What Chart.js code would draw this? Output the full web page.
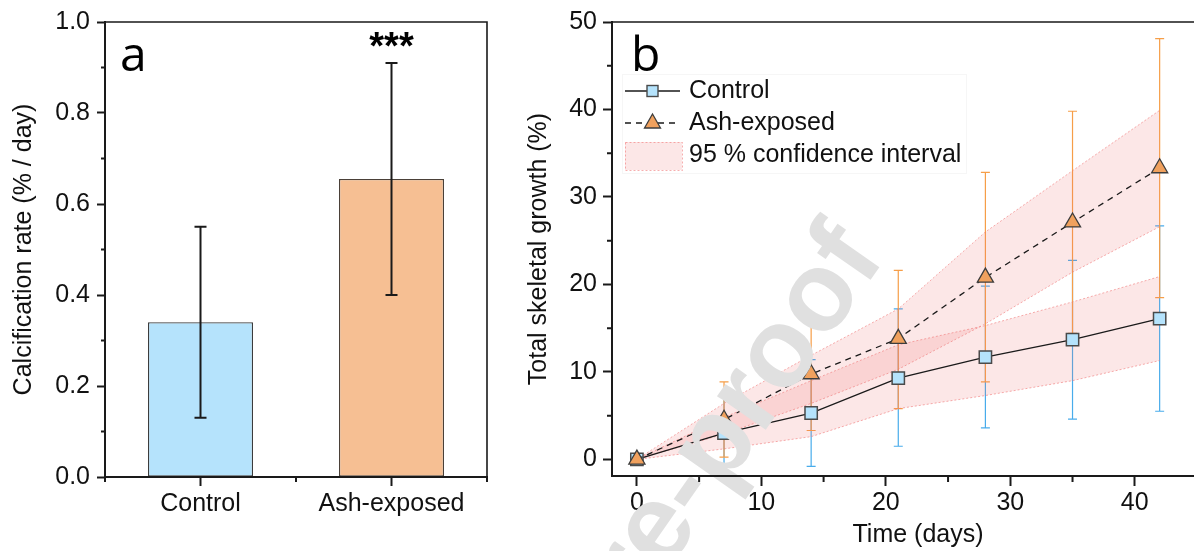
<!DOCTYPE html>
<html>
<head>
<meta charset="utf-8">
<script src="https://cdn.jsdelivr.net/npm/chart.js@4.4.0/dist/chart.umd.min.js"></script>
<style>
  html, body { margin: 0; padding: 0; background: #fff; width: 1194px; height: 551px; overflow: hidden; }
  #wrapA { position: absolute; left: 0; top: 0; }
  #wrapB { position: absolute; left: 510px; top: 0; }
</style>
</head>
<body>
<div id="wrapA"><canvas id="chartA" width="510" height="551"></canvas></div>
<div id="wrapB"><canvas id="chartB" width="730" height="551"></canvas></div>
<script>
// panel a - calcification rate
const groups = ["Control", "Ash-exposed"];
const rateMean = [0.34, 0.655];
const rateLow = [0.13, 0.40];
const rateHigh = [0.55, 0.91];
const rateTicks = [0, 0.2, 0.4, 0.6, 0.8, 1.0];
const rateMinor = [0.1, 0.3, 0.5, 0.7, 0.9];

// panel b - total skeletal growth over time
const days = [0, 7, 14, 21, 28, 35, 42];
const ctrlGrowth = [0, 3.0, 5.3, 9.3, 11.7, 13.7, 16.1];
const ctrlErrLow = [0, -1.45, -0.8, 1.5, 3.6, 4.6, 5.5];
const ctrlErrHigh = [0, 7.45, 11.4, 17.2, 19.8, 22.75, 26.7];
const ashGrowth = [0, 4.55, 9.75, 13.8, 20.8, 27.1, 33.3];
const ashErrLow = [0, 0.25, 3.3, 5.8, 8.85, 14.4, 18.5];
const ashErrHigh = [0, 8.85, 16.2, 21.6, 32.8, 39.8, 48.1];
const ctrlCiLow = [0, 1.2, 2.6, 5.8, 7.3, 9.0, 11.3];
const ctrlCiHigh = [0, 4.8, 9.0, 13.1, 15.3, 18.0, 20.9];
const ashCiLow = [0, 2.9, 6.4, 10.3, 15.5, 21.4, 26.6];
const ashCiHigh = [0, 6.4, 11.9, 17.2, 26.0, 33.0, 39.9];
const growthTicks = [0, 10, 20, 30, 40, 50];
const growthMinor = [5, 15, 25, 35, 45];
const dayTicks = [0, 10, 20, 30, 40];
const dayMinor = [5, 15, 25, 35, 45];

const FONT = "'Liberation Sans', Arial, sans-serif";
const INK = "#1a1a1a";
const CTRL_FILL = "#b5e3fc";
const ASH_FILL = "#f6bf93";
const ASH_MARK = "#f0a15e";
const CTRL_ERR = "rgb(72,172,235)";
const ASH_ERR = "rgb(246,158,72)";
const BAND_FILL = "rgba(235,110,110,0.17)";
const BAND_LINE = "rgba(240,120,120,0.6)";

const toPts = (ys) => days.map((d, i) => ({ x: d, y: ys[i] }));

function drawMinorTicks(chart, axisId, values, len) {
  const s = chart.scales[axisId];
  const ctx = chart.ctx;
  ctx.save();
  ctx.strokeStyle = INK;
  ctx.lineWidth = 2;
  ctx.beginPath();
  values.forEach((v) => {
    const p = s.getPixelForValue(v);
    if (s.isHorizontal()) {
      ctx.moveTo(p, s.top);
      ctx.lineTo(p, s.top + len);
    } else {
      ctx.moveTo(s.right, p);
      ctx.lineTo(s.right - len, p);
    }
  });
  ctx.stroke();
  ctx.restore();
}

function drawErrorBars(ctx, xs, y, xVals, lows, highs, color, width, cap) {
  ctx.save();
  ctx.strokeStyle = color;
  ctx.lineWidth = width;
  ctx.beginPath();
  xVals.forEach((xv, i) => {
    if (lows[i] === highs[i]) return;
    const x = xs.getPixelForValue(xv);
    const y1 = y.getPixelForValue(lows[i]);
    const y2 = y.getPixelForValue(highs[i]);
    ctx.moveTo(x, y1); ctx.lineTo(x, y2);
    ctx.moveTo(x - cap / 2, y1); ctx.lineTo(x + cap / 2, y1);
    ctx.moveTo(x - cap / 2, y2); ctx.lineTo(x + cap / 2, y2);
  });
  ctx.stroke();
  ctx.restore();
}

function drawFrame(chart) {
  const a = chart.chartArea;
  const ctx = chart.ctx;
  ctx.save();
  ctx.strokeStyle = INK;
  ctx.lineWidth = 1.6;
  ctx.beginPath();
  ctx.moveTo(a.left, a.top);
  ctx.lineTo(a.right, a.top);
  ctx.lineTo(a.right, a.bottom);
  ctx.stroke();
  ctx.restore();
}

// ---------- panel a ----------
const panelAPlugin = {
  id: "panelA",
  afterDatasetsDraw(chart) {
    drawErrorBars(chart.ctx, chart.scales.x, chart.scales.y, [0, 1], rateLow, rateHigh, INK, 2, 12);
  },
  afterDraw(chart) {
    const ctx = chart.ctx;
    drawFrame(chart);
    drawMinorTicks(chart, "y", rateMinor, 4);
    drawMinorTicks(chart, "x", [-0.5, 0.5, 1.5], 5);
    ctx.save();
    ctx.fillStyle = "#000";
    ctx.font = "48px 'Open Sans'";
    ctx.textBaseline = "alphabetic";
    ctx.fillText("a", 120, 71);
    ctx.font = "bold 38px " + FONT;
    ctx.textAlign = "center";
    ctx.fillText("***", chart.scales.x.getPixelForValue(1), chart.scales.y.getPixelForValue(rateHigh[1]) - 4);
    ctx.restore();
  },
};

new Chart(document.getElementById("chartA"), {
  type: "bar",
  data: {
    labels: groups,
    datasets: [
      {
        data: rateMean,
        backgroundColor: [CTRL_FILL, ASH_FILL],
        borderColor: ["#3c3c3c", "#4a4038"],
        borderWidth: 1.3,
        borderSkipped: false,
        barPercentage: 0.55,
        categoryPercentage: 1,
      },
    ],
  },
  options: {
    responsive: false,
    animation: false,
    events: [],
    layout: { padding: { top: 21, right: 23, left: 0, bottom: 0 } },
    plugins: { legend: { display: false }, tooltip: { enabled: false } },
    scales: {
      x: {
        grid: { drawOnChartArea: false, offset: false, tickLength: 9, tickWidth: 2, tickColor: INK },
        border: { color: INK, width: 2, z: 1 },
        ticks: { font: { family: FONT, size: 25 }, color: "#111", padding: 3 },
        afterFit: (s) => { s.height = 74; },
      },
      y: {
        min: 0,
        max: 1,
        afterBuildTicks: (s) => { s.ticks = rateTicks.map((v) => ({ value: v })); },
        grid: { drawOnChartArea: false, tickLength: 8, tickWidth: 2, tickColor: INK },
        border: { color: INK, width: 2, z: 1 },
        ticks: { font: { family: FONT, size: 25 }, color: "#111", padding: 7, callback: (v) => Number(v).toFixed(1) },
        title: { display: true, text: "Calcification rate (% / day)", font: { family: FONT, size: 25 }, color: "#111", padding: { top: 9, bottom: 0 } },
        afterFit: (s) => { s.width = 105; },
      },
    },
  },
  plugins: [panelAPlugin],
});

// ---------- panel b ----------
const panelBPlugin = {
  id: "panelB",
  beforeDatasetsDraw(chart) {
    const { x, y } = chart.scales;
    drawErrorBars(chart.ctx, x, y, days, ctrlErrLow, ctrlErrHigh, CTRL_ERR, 1.2, 9);
    drawErrorBars(chart.ctx, x, y, days, ashErrLow, ashErrHigh, ASH_ERR, 1.2, 9);
  },
  afterDatasetsDraw(chart) {
    // "Journal Pre-proof" watermark of the source page
    const ctx = chart.ctx;
    ctx.save();
    ctx.translate(376, 258);
    ctx.rotate(-55 * Math.PI / 180);
    ctx.fillStyle = "#e0e0e0";
    ctx.font = "bold 112px " + FONT;
    ctx.textAlign = "right";
    ctx.textBaseline = "alphabetic";
    ctx.fillText("Journal Pre-proof", 0, 0);
    ctx.restore();
  },
  afterDraw(chart) {
    const ctx = chart.ctx;
    drawFrame(chart);
    drawMinorTicks(chart, "y", growthMinor, 5);
    drawMinorTicks(chart, "x", dayMinor, 6);

    ctx.save();
    ctx.fillStyle = "#000";
    ctx.font = "48px 'Open Sans'";
    ctx.fillText("b", 121, 71);

    // legend
    ctx.fillStyle = "#fff";
    ctx.fillRect(112, 74, 344, 99);
    ctx.strokeStyle = "#f6f6f6";
    ctx.lineWidth = 1;
    ctx.strokeRect(112.5, 74.5, 344, 99);

    ctx.strokeStyle = INK;
    ctx.lineWidth = 1.3;
    ctx.beginPath();
    ctx.moveTo(115, 91); ctx.lineTo(170, 91);
    ctx.stroke();
    ctx.fillStyle = CTRL_FILL;
    ctx.strokeStyle = "#4a4a4a";
    ctx.lineWidth = 1.4;
    ctx.fillRect(137, 85.5, 11, 11);
    ctx.strokeRect(137, 85.5, 11, 11);

    ctx.strokeStyle = INK;
    ctx.lineWidth = 1.3;
    ctx.setLineDash([6, 5]);
    ctx.beginPath();
    ctx.moveTo(115, 123); ctx.lineTo(170, 123);
    ctx.stroke();
    ctx.setLineDash([]);
    ctx.fillStyle = ASH_MARK;
    ctx.strokeStyle = "#3d3d3d";
    ctx.beginPath();
    ctx.moveTo(142.5, 114); ctx.lineTo(150.5, 128); ctx.lineTo(134.5, 128); ctx.closePath();
    ctx.fill(); ctx.stroke();

    ctx.fillStyle = BAND_FILL;
    ctx.fillRect(115, 142, 57, 28);
    ctx.strokeStyle = BAND_LINE;
    ctx.lineWidth = 1;
    ctx.setLineDash([2, 2]);
    ctx.strokeRect(115.5, 142.5, 57, 28);
    ctx.setLineDash([]);

    ctx.fillStyle = "#111";
    ctx.font = "25px " + FONT;
    ctx.textBaseline = "middle";
    ctx.fillText("Control", 179, 91);
    ctx.fillText("Ash-exposed", 179, 123);
    ctx.fillText("95 % confidence interval", 179, 155);
    ctx.restore();
  },
};

new Chart(document.getElementById("chartB"), {
  type: "line",
  data: {
    datasets: [
      {
        label: "Ash-exposed",
        data: toPts(ashGrowth),
        borderColor: INK,
        borderWidth: 1.3,
        borderDash: [6, 5],
        pointStyle: "triangle",
        pointRadius: 9.3,
        pointBackgroundColor: ASH_MARK,
        pointBorderColor: "#3d3d3d",
        pointBorderWidth: 1.3,
        fill: false,
      },
      {
        label: "Control",
        data: toPts(ctrlGrowth),
        borderColor: INK,
        borderWidth: 1.3,
        pointStyle: "rect",
        pointRadius: 8.7,
        pointBackgroundColor: CTRL_FILL,
        pointBorderColor: "#4a4a4a",
        pointBorderWidth: 1.5,
        fill: false,
      },
      {
        label: "ctrl ci high",
        data: toPts(ctrlCiHigh),
        borderColor: BAND_LINE,
        borderWidth: 1,
        borderDash: [2, 2],
        backgroundColor: BAND_FILL,
        pointRadius: 0,
        fill: "+1",
      },
      {
        label: "ctrl ci low",
        data: toPts(ctrlCiLow),
        borderColor: BAND_LINE,
        borderWidth: 1,
        borderDash: [2, 2],
        pointRadius: 0,
        fill: false,
      },
      {
        label: "ash ci high",
        data: toPts(ashCiHigh),
        borderColor: BAND_LINE,
        borderWidth: 1,
        borderDash: [2, 2],
        backgroundColor: BAND_FILL,
        pointRadius: 0,
        fill: "+1",
      },
      {
        label: "ash ci low",
        data: toPts(ashCiLow),
        borderColor: BAND_LINE,
        borderWidth: 1,
        borderDash: [2, 2],
        pointRadius: 0,
        fill: false,
      },
    ],
  },
  options: {
    responsive: false,
    animation: false,
    events: [],
    layout: { padding: { top: 22, right: 16, left: 0, bottom: 0 } },
    plugins: { legend: { display: false }, tooltip: { enabled: false } },
    scales: {
      x: {
        type: "linear",
        min: -2,
        max: 47.17,
        afterBuildTicks: (s) => { s.ticks = dayTicks.map((v) => ({ value: v })); },
        grid: { drawOnChartArea: false, tickLength: 10, tickWidth: 2, tickColor: INK },
        border: { color: INK, width: 2, z: 1 },
        ticks: { font: { family: FONT, size: 25 }, color: "#111", padding: 2 },
        title: { display: true, text: "Time (days)", font: { family: FONT, size: 25 }, color: "#111", padding: { top: 0, bottom: 1 } },
        afterFit: (s) => { s.height = 75; },
      },
      y: {
        min: -1.9,
        max: 50,
        afterBuildTicks: (s) => { s.ticks = growthTicks.map((v) => ({ value: v })); },
        grid: { drawOnChartArea: false, tickLength: 9, tickWidth: 2, tickColor: INK },
        border: { color: INK, width: 2, z: 1 },
        ticks: { font: { family: FONT, size: 25 }, color: "#111", padding: 6 },
        title: { display: true, text: "Total skeletal growth (%)", font: { family: FONT, size: 25 }, color: "#111", padding: { top: 14, bottom: 0 } },
        afterFit: (s) => { s.width = 102; },
      },
    },
  },
  plugins: [panelBPlugin],
});
</script>
</body>
</html>
